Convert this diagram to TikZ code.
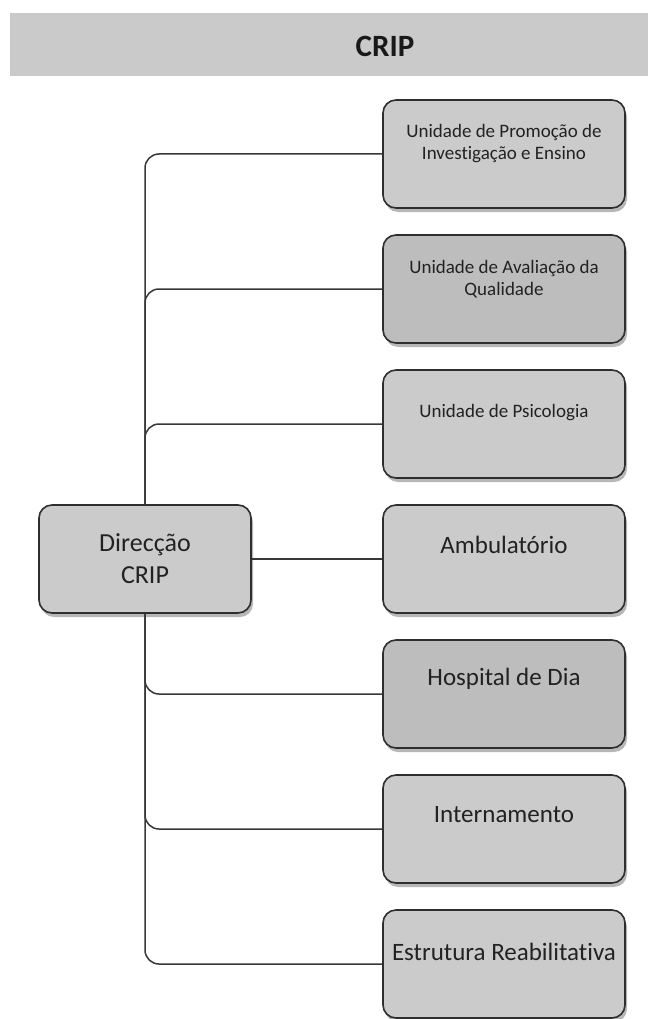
\documentclass[tikz,border=0pt]{standalone}
\usepackage{fontspec}
\setmainfont[RawFeature={-liga}]{Carlito}
\usetikzlibrary{shadows}

\definecolor{bargray}{HTML}{CACACA}
\definecolor{boxgray}{HTML}{CBCBCB}
\definecolor{boxdark}{HTML}{BDBDBD}
\definecolor{inkgray}{HTML}{222222}
\definecolor{edgegray}{HTML}{2E2E2E}

\begin{document}
\begin{tikzpicture}[x=1pt,y=-1pt,
  unitbox/.style={draw=edgegray, line width=1.6pt, rounded corners=13pt,
    fill=boxgray, minimum width=242pt, minimum height=108pt, inner sep=0pt,
    drop shadow={shadow xshift=2pt, shadow yshift=-4pt, fill=black!40, opacity=0.7}},
  darkbox/.style={unitbox, fill=boxdark},
  smalltext/.style={text=inkgray, align=center, inner sep=0pt,
    font=\fontsize{19}{22}\selectfont},
  bigtext/.style={text=inkgray, align=center, inner sep=0pt,
    font=\fontsize{25}{30}\selectfont},
  conn/.style={draw=black!78, line width=1.5pt, rounded corners=14pt}]

\useasboundingbox (0,0) rectangle (650,1019);

% title banner
\node[fill=bargray, minimum width=638pt, minimum height=63pt, inner sep=0pt] (bar) at (329,44.5) {};
\node[text=black!90, inner sep=0pt, font=\bfseries\fontsize{31}{36}\selectfont] (title) at (385,46) {CRIP};

% management box
\node[unitbox, minimum width=212pt] (dir) at (145,559) {};
\node[text=inkgray, align=center, inner sep=0pt,
  font=\fontsize{26}{32}\selectfont] (dirtext) at (dir.center) {Direcção\\CRIP};

% units
\node[unitbox] (b1) at (504,154) {};
\node[darkbox] (b2) at (504,289) {};
\node[unitbox] (b3) at (504,424) {};
\node[unitbox] (b4) at (504,559) {};
\node[darkbox] (b5) at (504,694) {};
\node[unitbox] (b6) at (504,829) {};
\node[unitbox] (b7) at (504,964) {};

\node[smalltext] (t1) at ([yshift=10pt]b1.center) {Unidade de Promoção de\\Investigação e Ensino};
\node[smalltext] (t2) at ([yshift=10pt]b2.center) {Unidade de Avaliação da\\Qualidade};
\node[smalltext] (t3) at ([yshift=11pt]b3.center) {Unidade de Psicologia};
\node[bigtext] (t4) at ([yshift=14pt]b4.center) {Ambulatório};
\node[bigtext] (t5) at ([yshift=15pt]b5.center) {Hospital de Dia};
\node[bigtext] (t6) at ([yshift=14pt]b6.center) {Internamento};
\node[bigtext] (t7) at ([yshift=12pt]b7.center) {Estrutura Reabilitativa};

% connectors from the management box to each unit
\draw[conn] (dir.north) |- (b1.west);
\draw[conn] (dir.north) |- (b2.west);
\draw[conn] (dir.north) |- (b3.west);
\draw[conn] (dir.east) -- (b4.west);
\draw[conn] (dir.south) |- (b5.west);
\draw[conn] (dir.south) |- (b6.west);
\draw[conn] (dir.south) |- (b7.west);
\end{tikzpicture}
\end{document}
